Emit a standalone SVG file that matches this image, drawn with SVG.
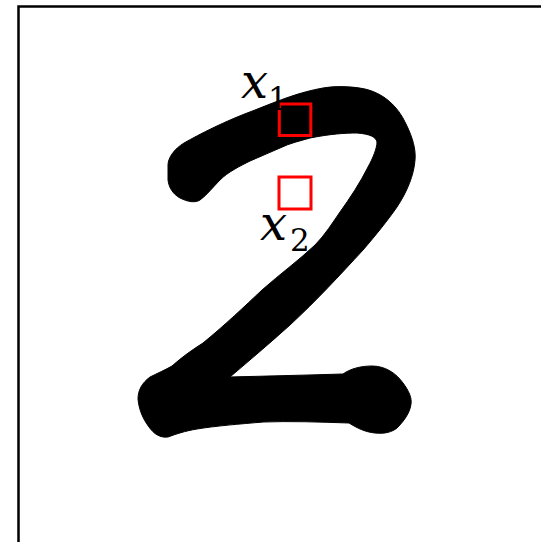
<svg xmlns="http://www.w3.org/2000/svg" width="541" height="542" viewBox="0 0 541 542">
<style>
.frame{fill:none;stroke:#000;stroke-width:2.5}
.digit{fill:#000;stroke:#000;stroke-width:1;stroke-linejoin:round}
.box{fill:none;stroke:#ff0000;stroke-width:3}
.var{font-family:"DejaVu Serif","Liberation Serif",serif;font-style:italic;font-size:48px;fill:#000}
.sub{font-family:"DejaVu Serif","Liberation Serif",serif;font-size:31px;fill:#000}
</style>
<rect width="541" height="542" fill="#fff"/>
<rect id="frame" class="frame" x="18.5" y="6.5" width="600" height="600"/>
<g id="digit-two">
<path class="digit" d="M168,165 C168,158 174,149 184,143 C200,134 225,121 255,110 C280,100 300,92 323,88 C335,86 350,86 365,89 C383,93 398,106 406,124 C413,138 416,150 415,160 C414,175 407,192 397,207 C388,220 376,235 363,250 C340,275 317,300 290,325 C270,343 250,360 230,377 C270,376 310,375 343,374 C350,369 360,366 372,366 C385,366 396,373 403,383 C409,391 412,398 411,404 C410,412 405,420 397,428 C392,432 385,434 375,433 C365,432 357,428 349,423 C320,422 290,421 263,422 C240,424 215,426 197,429 C185,431 176,434 168,437 C160,438 154,434 149,427 C143,419 139,410 138,399 C138,390 142,383 150,377 C158,373 165,370 172,366 C182,357 192,350 203,343 C225,325 245,306 262,290 C280,274 298,261 315,245 C325,235 333,222 340,212 C350,198 360,183 368,167 C373,158 377,148 377,142 C376,137 370,134 357,133 C345,133 330,134 310,138 C300,141 290,143 280,148 C270,152 260,157 250,161 C240,166 228,172 220,180 C213,187 207,195 200,200 C195,203 188,202 180,198 C173,194 169,188 168,180 Z"/>
</g>
<g id="patch-x1">
<rect class="box" x="279.3" y="104" width="31.5" height="31.5"/>
<text class="var" x="241" y="98">x</text>
<text class="sub" x="268" y="110">1</text>
</g>
<g id="patch-x2">
<rect class="box" x="279" y="177" width="32" height="32"/>
<text class="var" x="260" y="240">x</text>
<text class="sub" x="290" y="251">2</text>
</g>
<g id="connectors"></g>
</svg>
